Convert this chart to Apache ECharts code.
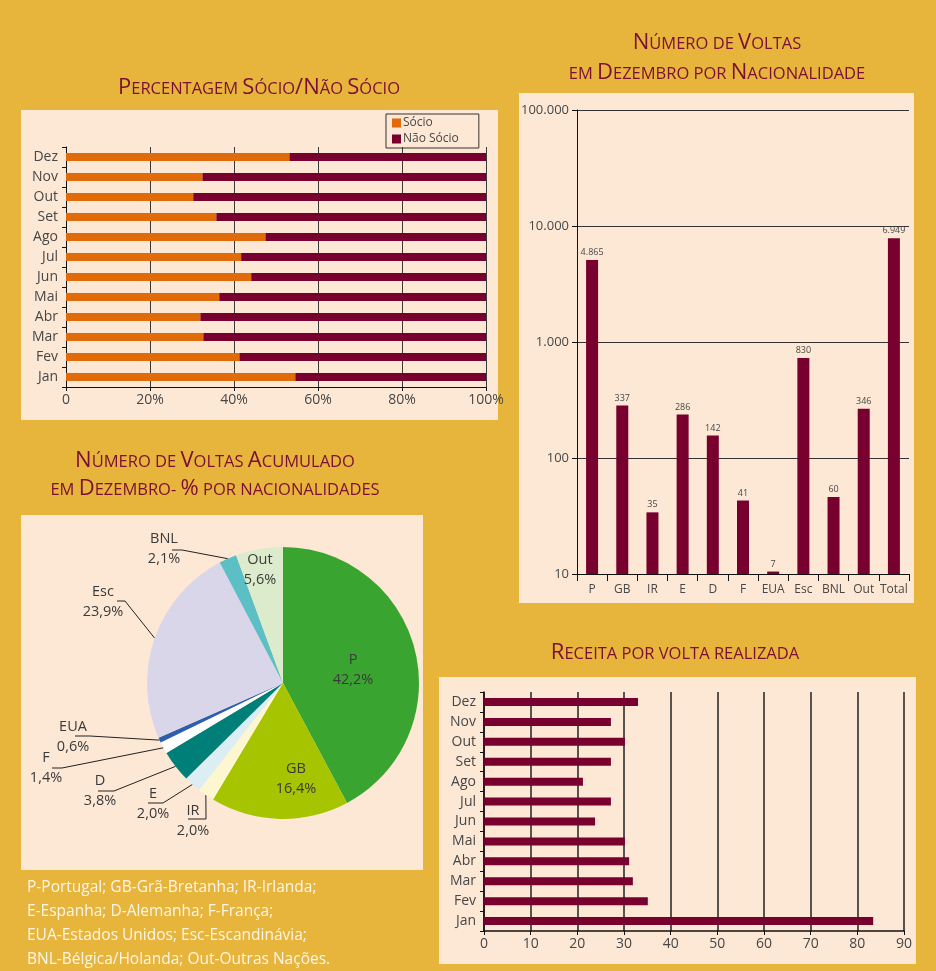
<!DOCTYPE html>
<html>
<head>
<meta charset="utf-8">
<script src="https://cdn.jsdelivr.net/npm/echarts@6/dist/echarts.min.js"></script>
<style>
html, body { margin: 0; padding: 0; background: #e7b43c; }
#chart { width: 936px; height: 971px; }
</style>
</head>
<body>
<div id="chart"></div>
<script>
const meses = ['Jan', 'Fev', 'Mar', 'Abr', 'Mai', 'Jun', 'Jul', 'Ago', 'Set', 'Out', 'Nov', 'Dez'];
const socio = [54.6, 41.3, 32.7, 32.0, 36.5, 44.1, 41.7, 47.5, 35.8, 30.3, 32.5, 53.2];
const naoSocio = [45.4, 58.7, 67.3, 68.0, 63.5, 55.9, 58.3, 52.5, 64.2, 69.7, 67.5, 46.8];

const nacionalidades = ['P', 'GB', 'IR', 'E', 'D', 'F', 'EUA', 'Esc', 'BNL', 'Out', 'Total'];
const voltas = [5080, 283, 34, 237, 156, 43, 10.5, 729, 46, 266, 7840];
const voltasRotulos = ['4.865', '337', '35', '286', '142', '41', '7', '830', '60', '346', '6.949'];

const pieNomes = ['P', 'GB', 'IR', 'E', 'D', 'F', 'EUA', 'Esc', 'BNL', 'Out'];
const piePct = [42.2, 16.4, 2.0, 2.0, 3.8, 1.4, 0.6, 23.9, 2.1, 5.6];

const receita = [83.4, 35.1, 31.9, 31.1, 30.2, 23.8, 27.2, 21.2, 27.2, 30.2, 27.2, 33.0];

const notaRodape = [
    'P-Portugal; GB-Grã-Bretanha; IR-Irlanda;',
    'E-Espanha; D-Alemanha; F-França;',
    'EUA-Estados Unidos; Esc-Escandinávia;',
    'BNL-Bélgica/Holanda; Out-Outras Nações.'
];

// estilos
const FONT = "'Open Sans', 'Noto Sans', sans-serif";
const MARROM = '#77002f';
const LARANJA = '#e06b08';
const CREME = '#fde8d5';
const TITULO = '#7b0f37';
const TXT = '#474747';
const pieCores = ['#3aa430', '#a6c400', '#fcf7d0', '#dbeef4', '#007e78', '#ffffff', '#2d5fae', '#dad6e9', '#5bbfc5', '#dcebcb'];

// posições dos rótulos da pizza (centro do bloco) e cotovelo/fim da linha
const pieLayout = [
    { x: 353, y: 670 },
    { x: 296, y: 779 },
    { x: 193, y: 821, line: [[206, 819], [188, 819]] },
    { x: 153, y: 804, line: [[163, 803], [148, 803]] },
    { x: 100, y: 791, line: [[114, 791], [98, 791]] },
    { x: 46, y: 768, line: [[62, 768], [52, 768]] },
    { x: 73, y: 737, line: [[90, 736], [75, 736]] },
    { x: 103, y: 602, line: [[125, 601], [117, 601]] },
    { x: 164, y: 549, line: [[182, 550], [172, 550]] },
    { x: 260, y: 570 }
];

// versalete: maiúsculas grandes, minúsculas em maiúsculas pequenas
function versalete(txt) {
    let out = '', run = '', cur = null;
    for (const ch of txt) {
        const small = ch === ' ' || ch === '-' || (ch !== ch.toUpperCase());
        const st = small ? 's' : 'b';
        if (st !== cur && run) { out += `{${cur}|${run}}`; run = ''; }
        cur = st;
        run += ch.toUpperCase();
    }
    if (run) out += `{${cur}|${run}}`;
    return out;
}

function titulo(txt, x, y) {
    return {
        type: 'text', x, y, silent: true,
        style: {
            text: versalete(txt), align: 'center', verticalAlign: 'middle',
            fill: TITULO, fontFamily: FONT,
            rich: {
                b: { fontSize: 22, fill: TITULO, fontFamily: FONT },
                s: { fontSize: 16.5, fill: TITULO, fontFamily: FONT, padding: [3, 0, 0, 0] }
            }
        }
    };
}

function painel(x, y, w, h) {
    return { type: 'rect', shape: { x, y, width: w, height: h }, style: { fill: CREME }, silent: true, z: -10 };
}

const milhar = v => String(v).replace(/\B(?=(\d{3})+(?!\d))/g, '.');
const gridLine = (c, w) => ({ show: true, lineStyle: { color: c, width: w } });
const eixo = { show: true, lineStyle: { color: '#111', width: 1 } };

const chart = echarts.init(document.getElementById('chart'));
chart.setOption({
    backgroundColor: '#e7b43c',
    textStyle: { fontFamily: FONT },
    animation: false,
    graphic: [
        painel(21, 110, 477, 310),
        painel(519, 93, 395, 510),
        painel(21, 515, 402, 355),
        painel(439, 677, 477, 287),
        titulo('Percentagem Sócio/Não Sócio', 259, 88),
        titulo('Número de Voltas', 717, 43),
        titulo('em Dezembro por Nacionalidade', 717, 73),
        titulo('Número de Voltas Acumulado', 215, 461),
        titulo('em Dezembro- % por nacionalidades', 215, 489),
        titulo('Receita por volta realizada', 675, 653),
        {
            type: 'text', x: 27, y: 876, silent: true,
            style: { text: notaRodape.join('\n'), fill: '#fff6e8', fontSize: 15.5, lineHeight: 24, fontFamily: FONT }
        }
    ],
    legend: {
        data: ['Sócio', 'Não Sócio'],
        orient: 'vertical', left: 386, top: 114,
        itemWidth: 9, itemHeight: 9, itemGap: 4, icon: 'rect',
        padding: [3, 20, 3, 6],
        borderColor: '#333', borderWidth: 1,
        selectedMode: false,
        textStyle: { fontSize: 12, color: TXT, padding: [0, 0, 0, -3] }
    },
    grid: [
        { left: 66, top: 147, width: 420, height: 240 },
        { left: 577, top: 110, width: 332, height: 464 },
        { left: 484, top: 692, width: 420, height: 239 }
    ],
    xAxis: [
        {
            gridIndex: 0, type: 'value', min: 0, max: 100, interval: 20,
            axisLine: eixo, axisTick: { show: true, length: 4, lineStyle: { color: '#111' } },
            splitLine: gridLine('#3a3a3a', 1),
            axisLabel: { fontSize: 14, color: TXT, margin: 6, formatter: v => v === 0 ? '0' : v + '%' }
        },
        {
            gridIndex: 1, type: 'category', data: nacionalidades,
            axisLine: eixo, axisTick: { show: true, length: 7, lineStyle: { color: '#111' } },
            axisLabel: { fontSize: 12, color: TXT, margin: 10, interval: 0 }
        },
        {
            gridIndex: 2, type: 'value', min: 0, max: 90, interval: 10,
            axisLine: { show: true, lineStyle: { color: '#111', width: 1.5 } },
            axisTick: { show: true, length: 4, lineStyle: { color: '#111' } },
            splitLine: gridLine('#222', 1.5),
            axisLabel: { fontSize: 14, color: TXT, margin: 6 }
        }
    ],
    yAxis: [
        {
            gridIndex: 0, type: 'category', data: meses,
            axisLine: eixo, axisTick: { show: true, length: 4, lineStyle: { color: '#111' } },
            axisLabel: { fontSize: 14, color: TXT, margin: 8 }
        },
        {
            gridIndex: 1, type: 'log', logBase: 10, min: 10, max: 100000,
            axisLine: eixo, axisTick: { show: true, length: 5, lineStyle: { color: '#111' } },
            splitLine: gridLine('#333', 1.2),
            axisLabel: { fontSize: 13, color: TXT, margin: 8, formatter: milhar }
        },
        {
            gridIndex: 2, type: 'category', data: meses,
            axisLine: { show: true, lineStyle: { color: '#111', width: 1.5 } },
            axisTick: { show: true, length: 4, lineStyle: { color: '#111' } },
            axisLabel: { fontSize: 14, color: TXT, margin: 8 }
        }
    ],
    series: [
        {
            name: 'Sócio', type: 'bar', stack: 'p', xAxisIndex: 0, yAxisIndex: 0,
            data: socio, barWidth: 8, itemStyle: { color: LARANJA }
        },
        {
            name: 'Não Sócio', type: 'bar', stack: 'p', xAxisIndex: 0, yAxisIndex: 0,
            data: naoSocio, barWidth: 8, itemStyle: { color: MARROM }
        },
        {
            type: 'bar', xAxisIndex: 1, yAxisIndex: 1, data: voltas, barWidth: 12,
            itemStyle: { color: MARROM },
            label: {
                show: true, position: 'top', distance: 3, fontSize: 9, color: TXT,
                formatter: p => voltasRotulos[p.dataIndex]
            }
        },
        {
            type: 'bar', xAxisIndex: 2, yAxisIndex: 2, data: receita, barWidth: 8,
            itemStyle: { color: MARROM }
        },
        {
            type: 'pie', center: [283, 683], radius: 136, startAngle: 90, clockwise: true,
            avoidLabelOverlap: false,
            data: pieNomes.map((n, i) => ({
                name: n, value: piePct[i],
                itemStyle: { color: pieCores[i] },
                label: { position: pieLayout[i].line ? 'outside' : 'inside' },
                labelLine: { show: !!pieLayout[i].line }
            })),
            label: {
                show: true, fontSize: 14.5, lineHeight: 20, color: '#3a3a3a',
                formatter: p => p.name + '\n' + p.value.toFixed(1).replace('.', ',') + '%'
            },
            labelLine: { length: 10, length2: 10, lineStyle: { color: '#222', width: 1 } },
            labelLayout: function (p) {
                const pos = pieLayout[p.dataIndex];
                const out = { x: pos.x, y: pos.y, align: 'center', verticalAlign: 'middle' };
                if (pos.line && p.labelLinePoints) {
                    out.labelLinePoints = [p.labelLinePoints[0], pos.line[0], pos.line[1]];
                }
                return out;
            }
        }
    ]
});
</script>
</body>
</html>
